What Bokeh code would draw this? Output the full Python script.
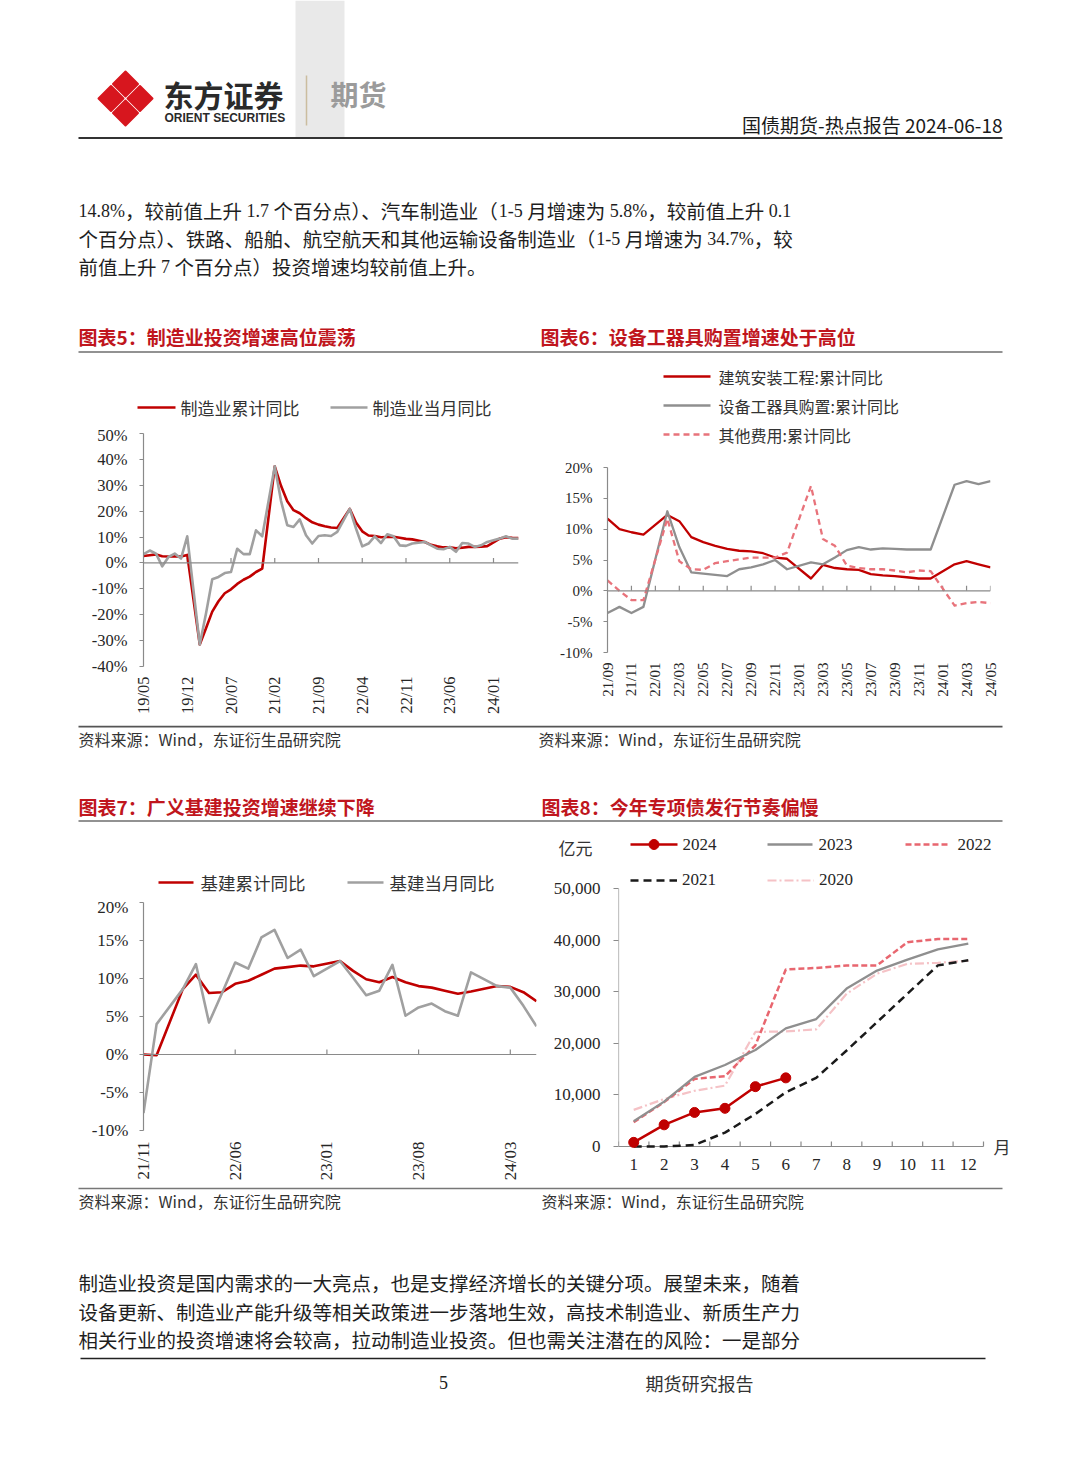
import math
from bokeh.plotting import figure
from bokeh.layouts import column, row
from bokeh.models import (Range1d, FixedTicker, PrintfTickFormatter, NumeralTickFormatter,
                          Legend, LegendItem, Label, Span)
from bokeh.core.properties import value
from bokeh.embed import file_html
from bokeh.resources import INLINE

CJK = "Noto Sans CJK SC"
SERIF = "Liberation Serif"
SANS = "Liberation Sans"
RED = "#c00000"
GREY = "#a0a0a0"
GREY6 = "#8f8f8f"
PINK = "#e8737b"
TITLE_RED = "#c0161d"
AXC = "#8a8a8a"
TXT = "#262626"

# ---------------- data ----------------
def months(start, end, skip_jan=True):
    y, m = map(int, start.split("/"))
    ye, me = map(int, end.split("/"))
    out = []
    while (y, m) <= (ye, me):
        if not (skip_jan and m == 1):
            out.append(f"{y:02d}/{m:02d}")
        m += 1
        if m > 12:
            m = 1
            y += 1
    return out

def month_index(label, origin):
    y, m = map(int, label.split("/"))
    y0, m0 = map(int, origin.split("/"))
    return (y - y0) * 12 + (m - m0)

# Chart 5: manufacturing investment
c5_dates = months("19/05", "24/05")
c5_cum = [2.7, 3.0, 3.3, 2.6, 2.5, 2.6, 2.5, 3.1,
          -31.5, -25.2, -18.8, -14.8, -11.7, -10.2, -8.1, -6.5, -5.3, -3.5, -2.2,
          37.3, 29.8, 23.8, 20.4, 19.2, 17.3, 15.7, 14.8, 14.2, 13.7, 13.5,
          20.9, 15.6, 12.2, 10.6, 10.4, 9.9, 10.0, 10.1, 9.7, 9.3, 9.1,
          8.1, 7.0, 6.4, 6.0, 6.0, 5.7, 5.9, 6.2, 6.2, 6.3, 6.5,
          9.4, 9.9, 9.7, 9.6]
c5_month = [3.4, 4.8, 3.6, -1.3, 2.3, 3.6, 1.7, 10.3,
            -31.5, -19.5, -6.3, -5.4, -3.9, -3.5, 5.5, 3.4, 3.4, 12.6, 10.3,
            37.3, 24.0, 14.6, 13.9, 16.8, 10.7, 7.5, 10.4, 10.7, 10.4, 12.0,
            20.9, 13.3, 6.4, 7.5, 10.3, 7.7, 11.1, 10.3, 6.8, 6.6, 7.5,
            8.1, 6.8, 5.5, 5.3, 6.2, 4.3, 7.7, 7.5, 6.2, 6.8, 8.1,
            9.4, 10.3, 9.4, 9.4]
c5_tick_labels = ["19/05", "19/12", "20/07", "21/02", "21/09", "22/04", "22/11", "23/06", "24/01"]
c5_yticks = [-40, -30, -20, -10, 0, 10, 20, 30, 40, 50]

# Chart 6: components
c6_dates = months("21/09", "24/05")
c6_build = [11.7, 10.0, 9.5, 9.1,
            12.3, 11.3, 8.7, 7.9, 7.3, 6.8, 6.5, 6.4, 6.1, 5.4, 5.2,
            2.0, 4.2, 3.7, 3.5, 3.4, 2.7, 2.5, 2.4, 2.2, 2.0, 2.0,
            4.3, 4.8, 4.3, 3.8]
c6_equip = [-3.6, -2.6, -3.6, -2.6,
            12.9, 7.1, 3.0, 2.8, 2.6, 2.4, 3.5, 3.8, 4.3, 5.0, 3.5,
            4.6, 4.3, 5.4, 6.6, 7.1, 6.7, 6.9, 6.8, 6.7, 6.7, 6.7,
            17.2, 17.8, 17.3, 17.8]
c6_other = [1.7, 0.0, -1.5, -1.5,
            11.7, 4.8, 3.5, 3.4, 4.5, 4.8, 5.1, 5.4, 5.4, 5.4, 6.2,
            17.0, 8.4, 7.3, 4.1, 3.7, 3.5, 3.5, 3.3, 3.0, 3.3, 3.2,
            -2.4, -2.0, -1.8, -2.0]
c6_tick_labels = ["21/09", "21/11", "22/01", "22/03", "22/05", "22/07", "22/09", "22/11",
                  "23/01", "23/03", "23/05", "23/07", "23/09", "23/11", "24/01", "24/03", "24/05"]
c6_yticks = [-10, -5, 0, 5, 10, 15, 20]

# Chart 7: infrastructure
c7_dates = months("21/11", "24/05")
c7_cum = [0.0, -0.1,
          8.6, 10.5, 8.1, 8.2, 9.3, 9.7, 10.5, 11.3, 11.5, 11.7, 11.6,
          12.3, 11.0, 9.9, 9.5, 10.2, 9.5, 9.0, 8.8, 8.4, 8.0, 8.3,
          9.0, 8.9, 8.2, 7.0]
c7_month = [-7.7, 4.0,
            8.6, 11.9, 4.2, 8.1, 12.1, 11.3, 15.4, 16.4, 12.7, 13.8, 10.3,
            12.3, 10.1, 7.8, 8.4, 11.8, 5.1, 6.2, 6.7, 5.7, 5.1, 10.8,
            9.0, 8.8, 6.4, 3.7]
c7_tick_labels = ["21/11", "22/06", "23/01", "23/08", "24/03"]
c7_yticks = [-10, -5, 0, 5, 10, 15, 20]

# Chart 8: special bonds (100 million yuan)
c8_months = [1, 2, 3, 4, 5, 6, 7, 8, 9, 10, 11, 12]
c8_2024 = [800, 4200, 6600, 7400, 11600, 13300]
c8_2023 = [4900, 8700, 13500, 15800, 18700, 22900, 24700, 30600, 34100, 36200, 38200, 39300]
c8_2022 = [4700, 8600, 13100, 13600, 19600, 34300, 34600, 35100, 35100, 39600, 40200, 40200]
c8_2021 = [0, 0, 300, 2700, 6300, 10500, 13300, 18600, 24100, 29600, 35100, 36100]
c8_2020 = [7100, 9200, 10800, 11800, 22200, 22300, 22700, 29600, 33500, 35400, 35600, 36000]
c8_yticks = [0, 10000, 20000, 30000, 40000, 50000]

# ---------------- helpers ----------------
def no_align(p):
    if "frame_align" in p.properties():
        p.frame_align = False
    return p

def page_fig(w, h):
    p = figure(width=w, height=h, x_range=Range1d(0, w), y_range=Range1d(h, 0),
               output_backend="svg", toolbar_location=None,
               x_axis_location=None, y_axis_location=None, min_border=0)
    p.grid.visible = False
    p.outline_line_color = None
    return no_align(p)

def txt(p, x, y, s, size, font=CJK, color="#1e1e1e", bold=False, align="left"):
    p.text(x=[x], y=[y], text=[s], text_font=value(font), text_font_size=value(f"{size}px"),
           text_color=color, text_font_style="bold" if bold else "normal",
           text_align=align, text_baseline="middle")

def hline(p, x0, x1, y, color, width, dash="solid"):
    p.segment(x0=[x0], y0=[y], x1=[x1], y1=[y], line_color=color, line_width=width, line_dash=dash)

LAT_W = {".": 0.25, "%": 0.833, "-": 0.333, " ": 0.25, ",": 0.25}

def runs_line(p, x, y, s, cjk_size=19.5, lat_size=18, color="#1e1e1e"):
    runs = []
    for ch in s:
        c = ord(ch) > 0x2E7F
        if runs and runs[-1][0] == c:
            runs[-1][1] += ch
        else:
            runs.append([c, ch])
    cx = x
    for c, t in runs:
        if c:
            txt(p, cx, y, t, cjk_size, CJK, color)
            adv = len(t)
            if t.endswith("（"):
                adv -= 0.45
            cx += adv * cjk_size
        else:
            lead = len(t) - len(t.lstrip(" "))
            cx += lead * 0.25 * lat_size
            core = t.strip(" ")
            if core:
                txt(p, cx, y, core, lat_size, SERIF, color)
                cx += sum(LAT_W.get(ch, 0.5) for ch in core) * lat_size
            trail = (len(t) - len(t.rstrip(" "))) if core else 0
            cx += trail * 0.25 * lat_size

def chart_fig(w, h, xr, yr, bl, br, bt, bb):
    p = figure(width=w, height=h, x_range=xr, y_range=yr, output_backend="svg",
               toolbar_location=None, min_border_left=bl, min_border_right=br,
               min_border_top=bt, min_border_bottom=bb)
    p.outline_line_color = None
    p.xgrid.visible = False
    p.ygrid.visible = False
    return no_align(p)

def style_y(p, ticks, fmt, size, standoff, tick_out=4, line=True):
    ax = p.yaxis[0]
    ax.ticker = FixedTicker(ticks=ticks, minor_ticks=[])
    ax.formatter = fmt
    ax.axis_line_color = AXC if line else None
    ax.axis_line_width = 1.2
    ax.major_tick_line_color = AXC
    ax.major_tick_line_width = 1.2
    ax.major_tick_out = tick_out
    ax.major_tick_in = 0
    ax.minor_tick_line_color = None
    ax.major_label_text_font = SERIF
    ax.major_label_text_font_size = f"{size}px"
    ax.major_label_text_color = TXT
    ax.major_label_standoff = standoff

def style_x(p, ticks, labels, size, standoff, rotate=True):
    ax = p.xaxis[0]
    ax.ticker = FixedTicker(ticks=ticks, minor_ticks=[])
    if labels is not None:
        ax.major_label_overrides = {t: l for t, l in zip(ticks, labels)}
    ax.axis_line_color = None
    ax.major_tick_line_color = None
    ax.major_tick_out = 0
    ax.major_tick_in = 0
    ax.minor_tick_line_color = None
    if rotate:
        ax.major_label_orientation = math.pi / 2
    ax.major_label_text_font = SERIF
    ax.major_label_text_font_size = f"{size}px"
    ax.major_label_text_color = TXT
    ax.major_label_standoff = standoff

def zero_line(p, ticks, tick_h):
    p.add_layout(Span(location=0, dimension="width", line_color=AXC, line_width=1.2))
    tk = [t for t in ticks if t > p.x_range.start]
    p.segment(x0=tk, y0=[0] * len(tk), x1=tk, y1=[tick_h] * len(tk),
              line_color=AXC, line_width=1.2)

# ---------------- header (screen y 0..355) ----------------
W = 1080
hdr = page_fig(W, 355)
hdr.quad(left=[295], right=[344], top=[0], bottom=[137], fill_color="#e9e9e9", line_color=None)
cx, cy, r, d = 125, 98, 12.5, 14.5
for ox, oy in [(0, -d), (d, 0), (0, d), (-d, 0)]:
    hdr.patch([cx + ox, cx + ox + r, cx + ox, cx + ox - r], [cy + oy - r, cy + oy, cy + oy + r, cy + oy],
              fill_color="#d7161e", line_color="#d7161e", line_width=2, line_join="round")
txt(hdr, 163, 93, "东方证券", 30, CJK, "#2a2a2a", bold=True)
txt(hdr, 164, 117, "ORIENT SECURITIES", 12, SANS, "#2a2a2a", bold=True)
hdr.segment(x0=[306], y0=[75], x1=[306], y1=[125], line_color="#cbbd9f", line_width=1.5)
txt(hdr, 330, 93, "期货", 28, CJK, "#9b9b9b", bold=True)
txt(hdr, 1002, 124, "国债期货-热点报告 2024-06-18", 19, CJK, "#1a1a1a", align="right")
hline(hdr, 78, 1002, 137.5, "#333333", 1.8)
para1 = ["14.8%，较前值上升 1.7 个百分点）、汽车制造业（1-5 月增速为 5.8%，较前值上升 0.1",
         "个百分点）、铁路、船舶、航空航天和其他运输设备制造业（1-5 月增速为 34.7%，较",
         "前值上升 7 个百分点）投资增速均较前值上升。"]
for i, s in enumerate(para1):
    runs_line(hdr, 78, 210 + 28 * i, s)
txt(hdr, 78, 336, "图表5：制造业投资增速高位震荡", 19, CJK, TITLE_RED, bold=True)
txt(hdr, 540, 336, "图表6：设备工器具购置增速处于高位", 19, CJK, TITLE_RED, bold=True)
hline(hdr, 78, 1002, 351.5, "#6e6e6e", 1.5)

# ---------------- chart 5 (x 0..530, y 355..725) ----------------
leg5 = page_fig(530, 70)
hline(leg5, 137, 175, 52, RED, 2.6)
txt(leg5, 180, 52, "制造业累计同比", 17, CJK, "#333333")
hline(leg5, 330, 367, 52, GREY, 2.6)
txt(leg5, 372, 52, "制造业当月同比", 17, CJK, "#333333")

c5 = chart_fig(530, 300, Range1d(0, 60), Range1d(-40, 50), 143, 12, 8, 59)
c5_x = [month_index(dd, c5_dates[0]) for dd in c5_dates]
c5_tick_pos = [month_index(dd, c5_tick_labels[0]) for dd in c5_tick_labels]
zero_line(c5, c5_tick_pos, 90 / 233 * 5)
c5.line(c5_x, c5_cum, line_color=RED, line_width=2.6, line_join="round")
c5.line(c5_x, c5_month, line_color=GREY, line_width=2.6, line_join="round")
style_y(c5, c5_yticks, PrintfTickFormatter(format="%d%%"), 16.5, 12)
style_x(c5, c5_tick_pos, c5_tick_labels, 16.5, 10)

# ---------------- chart 6 (x 530..1072) ----------------
leg6 = page_fig(542, 100)
hline(leg6, 133, 180, 21, RED, 2.5)
txt(leg6, 188, 21, "建筑安装工程:累计同比", 16, CJK, "#333333")
hline(leg6, 133, 180, 50, GREY6, 2.5)
txt(leg6, 188, 50, "设备工器具购置:累计同比", 16, CJK, "#333333")
hline(leg6, 133, 180, 79, PINK, 2.5, "6 4")
txt(leg6, 188, 79, "其他费用:累计同比", 16, CJK, "#333333")

c6 = chart_fig(542, 270, Range1d(0, 32), Range1d(-10, 20), 77, 82, 12, 73)
c6_x = [month_index(dd, c6_dates[0]) for dd in c6_dates]
c6_tick_pos = [month_index(dd, c6_tick_labels[0]) for dd in c6_tick_labels]
zero_line(c6, c6_tick_pos, 30 / 185 * 5)
c6.line(c6_x, c6_build, line_color=RED, line_width=2.3, line_join="round")
c6.line(c6_x, c6_equip, line_color=GREY6, line_width=2.3, line_join="round")
c6.line(c6_x, c6_other, line_color=PINK, line_width=2.3, line_dash="6 4", line_join="round")
style_y(c6, c6_yticks, PrintfTickFormatter(format="%d%%"), 15, 11)
style_x(c6, c6_tick_pos, c6_tick_labels, 15, 10)

# ---------------- middle strip (y 725..825) ----------------
mid = page_fig(W, 100)
hline(mid, 78, 1002, 1, "#555555", 1.8)
txt(mid, 78, 13, "资料来源：Wind，东证衍生品研究院", 16, CJK, "#333333")
txt(mid, 538, 13, "资料来源：Wind，东证衍生品研究院", 16, CJK, "#333333")
txt(mid, 78, 81, "图表7：广义基建投资增速继续下降", 19, CJK, TITLE_RED, bold=True)
txt(mid, 541, 81, "图表8：今年专项债发行节奏偏慢", 19, CJK, TITLE_RED, bold=True)
hline(mid, 78, 1002, 95.5, "#6e6e6e", 1.5)

# ---------------- chart 7 (x 0..540, y 825..1186) ----------------
leg7 = page_fig(540, 72)
hline(leg7, 158, 193, 57, RED, 2.6)
txt(leg7, 200, 57, "基建累计同比", 17.5, CJK, "#333333")
hline(leg7, 347, 383, 57, GREY, 2.6)
txt(leg7, 389, 57, "基建当月同比", 17.5, CJK, "#333333")

c7 = chart_fig(540, 289, Range1d(0, 30), Range1d(-10, 20), 143, 4, 5, 56)
c7_x = [month_index(dd, c7_dates[0]) for dd in c7_dates]
c7_tick_pos = [month_index(dd, c7_tick_labels[0]) for dd in c7_tick_labels]
zero_line(c7, c7_tick_pos, 30 / 228 * 5)
c7.line(c7_x, c7_cum, line_color=RED, line_width=2.6, line_join="round")
c7.line(c7_x, c7_month, line_color=GREY, line_width=2.6, line_join="round")
style_y(c7, c7_yticks, PrintfTickFormatter(format="%d%%"), 17, 11)
style_x(c7, c7_tick_pos, c7_tick_labels, 17, 11)

# ---------------- chart 8 (x 540..1020) ----------------
leg8 = page_fig(480, 41)
txt(leg8, 35, 22, "亿元", 17, CJK, "#333333", align="center")
hline(leg8, 90, 137, 19, RED, 2.5)
leg8.scatter([113.5], [19], size=10, color=RED)
txt(leg8, 142, 19, "2024", 17, SERIF, "#262626")
hline(leg8, 227, 272, 19, GREY6, 2.3)
txt(leg8, 278, 19, "2023", 17, SERIF, "#262626")
hline(leg8, 365, 410, 19, "#e8666f", 2.5, "6 3")
txt(leg8, 417, 19, "2022", 17, SERIF, "#262626")

PX8 = 365 / 12          # px per month
PY8 = 258 / 50000       # px per 100m yuan
X8_START = 0.5
X8_END = 12.5 + 37 / PX8
Y8_TOP = 50000 + 22 / PY8
Y8_BOT = -10 / PY8
c8 = chart_fig(480, 320, Range1d(X8_START, X8_END), Range1d(Y8_BOT, Y8_TOP), 78, 0, 0, 30)
r20 = c8.line(c8_months, c8_2020, line_color="#f5c2c6", line_width=2.2, line_dash="9 3 2 3")
# axis lines and inward ticks, ending at the last tick
c8.segment(x0=[X8_START, X8_START], y0=[0, 0], x1=[X8_START, 12.5], y1=[max(c8_yticks), 0],
           line_color=AXC, line_width=1.2)
c8_minor = [m - 0.5 for m in c8_months] + [12.5]
c8.segment(x0=c8_minor, y0=[0] * len(c8_minor), x1=c8_minor, y1=[5 / PY8] * len(c8_minor),
           line_color=AXC, line_width=1.2)
r21 = c8.line(c8_months, c8_2021, line_color="#1a1a1a", line_width=2.5, line_dash="8 5")
r22 = c8.line(c8_months, c8_2022, line_color="#e8666f", line_width=2.5, line_dash="6 3")
r23 = c8.line(c8_months, c8_2023, line_color=GREY6, line_width=2.3)
r24 = c8.line(c8_months[:len(c8_2024)], c8_2024, line_color=RED, line_width=2.5)
c8.scatter(c8_months[:len(c8_2024)], c8_2024, size=10, color=RED)
style_y(c8, c8_yticks, NumeralTickFormatter(format="0,0"), 17, 13, tick_out=5, line=False)
style_x(c8, c8_months, None, 17, 2, rotate=False)
leg8b = Legend(items=[LegendItem(label="2021", renderers=[r21]), LegendItem(label="2020", renderers=[r20])],
               location=(12, 266), orientation="horizontal", glyph_width=47, glyph_height=16,
               label_standoff=5, spacing=51, padding=0, margin=0, border_line_color=None,
               background_fill_alpha=0, label_text_font=SERIF, label_text_font_size="17px",
               label_text_color="#262626", label_height=16)
c8.add_layout(leg8b)
c8.add_layout(Label(x=12.5 + 10 / PX8, y=0, text="月", text_font=CJK, text_font_size="17px",
                    text_color="#333333", text_baseline="middle"))

# ---------------- footer (y 1186..1406) ----------------
ftr = page_fig(W, 220)
hline(ftr, 78, 1002, 2, "#777777", 1.6)
txt(ftr, 78, 14, "资料来源：Wind，东证衍生品研究院", 16, CJK, "#333333")
txt(ftr, 541, 14, "资料来源：Wind，东证衍生品研究院", 16, CJK, "#333333")
para2 = ["制造业投资是国内需求的一大亮点，也是支撑经济增长的关键分项。展望未来，随着",
         "设备更新、制造业产能升级等相关政策进一步落地生效，高技术制造业、新质生产力",
         "相关行业的投资增速将会较高，拉动制造业投资。但也需关注潜在的风险：一是部分"]
for i, s in enumerate(para2):
    runs_line(ftr, 78, 96 + 28.5 * i, s)
hline(ftr, 80, 985, 172, "#222222", 1.6)
txt(ftr, 443, 196, "5", 18, SERIF, "#222222", align="center")
txt(ftr, 645, 196, "期货研究报告", 18, CJK, "#333333")

page = column(hdr,
              row(column(leg5, c5, spacing=0), column(leg6, c6, spacing=0), spacing=0),
              mid,
              row(column(leg7, c7, spacing=0), column(leg8, c8, spacing=0), spacing=0),
              ftr, spacing=0)

open("out.html", "w").write(file_html(page, INLINE, title="国债期货-热点报告"))
